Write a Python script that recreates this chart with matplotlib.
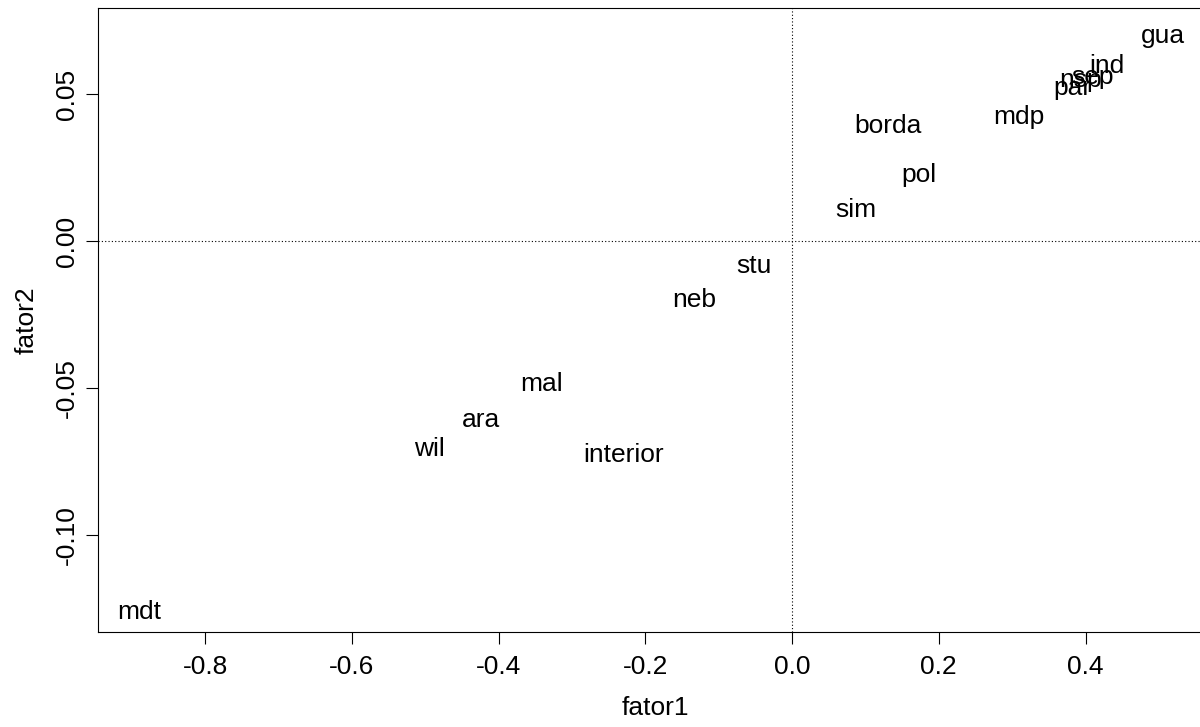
import matplotlib
matplotlib.use('Agg')
import matplotlib.pyplot as plt

plt.rcParams['font.family'] = ['Liberation Sans', 'DejaVu Sans']
plt.rcParams['axes.unicode_minus'] = False

# factor scores
labels = ['gua', 'ind', 'sep', 'nsp', 'par', 'mdp', 'borda', 'pol', 'sim',
          'stu', 'neb', 'mal', 'ara', 'wil', 'interior', 'mdt']
fator1 = [0.506, 0.429, 0.409, 0.393, 0.382, 0.309, 0.131, 0.173, 0.087,
          -0.052, -0.133, -0.341, -0.424, -0.494, -0.230, -0.890]
fator2 = [0.0697, 0.0595, 0.0558, 0.0548, 0.0520, 0.0422, 0.0391, 0.0224, 0.0105,
          -0.0085, -0.0201, -0.0486, -0.0609, -0.0707, -0.0728, -0.1262]

xticks = [-0.8, -0.6, -0.4, -0.2, 0.0, 0.2, 0.4]
yticks = [0.05, 0.00, -0.05, -0.10]

fig = plt.figure(figsize=(12, 7.27), dpi=100)
# the right edge of the box runs just past the image, as in the original
ax = fig.add_axes([0.0817, 0.1307, 1.011 - 0.0817, 0.989 - 0.1307])

for lab, x, y in zip(labels, fator1, fator2):
    ax.text(x, y, lab, ha='center', va='center', fontsize=19)

ax.axhline(0, color='black', linestyle=(0, (1, 2)), linewidth=0.8)
ax.axvline(0, color='black', linestyle=(0, (1, 2)), linewidth=0.8)

ax.set_xlim(-0.946, 0.574)
ax.set_ylim(-0.133, 0.0793)

ax.set_xticks(xticks)
ax.set_xticklabels(['%.1f' % v for v in xticks])
ax.set_yticks(yticks)
ax.set_yticklabels(['%.2f' % v for v in yticks], rotation=90, va='center')
ax.tick_params(labelsize=19, length=8.6, width=0.8)
ax.tick_params(axis='x', pad=8)
ax.tick_params(axis='y', pad=5)

for s in ax.spines.values():
    s.set_linewidth(0.8)

ax.set_xlabel('fator1', fontsize=19, labelpad=12)
ax.set_ylabel('fator2', fontsize=19, labelpad=12)

fig.savefig('out.png', dpi=100)
